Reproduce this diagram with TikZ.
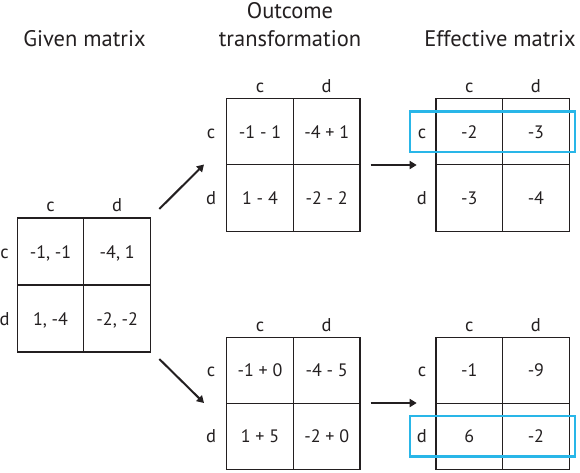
\documentclass[tikz,border=0pt]{standalone}
\usepackage{fontspec}
\setmainfont{PT Sans}
\usetikzlibrary{arrows.meta,calc}
\definecolor{ink}{HTML}{231F20}
\definecolor{hlblue}{RGB}{41,182,232}
\begin{document}
\begin{tikzpicture}[x=1pt,y=-1pt,
  cell/.style={draw=ink, line width=1.1pt, minimum width=66.6pt, minimum height=66.4pt,
    inner sep=0pt, text height=13pt, text depth=0pt, font=\fontsize{18}{20}\selectfont, text=ink},
  lab/.style={font=\fontsize{18.5}{20}\selectfont, text=ink, inner sep=0pt, anchor=base},
  head/.style={font=\fontsize{22.5}{26}\selectfont, text=ink, inner sep=0pt, anchor=base},
  arr/.style={-{Triangle[length=7pt,width=8pt]}, line width=2pt, draw=ink},
  hl/.style={draw=hlblue, line width=2.4pt}]
\useasboundingbox (0,0) rectangle (580,472);

% headers
\node[head] (h1) at (84.5,46) {Given matrix};
\node[head] (h2a) at (290,18) {Outcome};
\node[head] (h2b) at (290,46) {transformation};
\node[head] (h3) at (500,46) {Effective matrix};

% given matrix
\node[cell, minimum height=67pt] (g11) at (50.5,251.5) {-1, -1};
\node[cell, minimum height=67pt] (g12) at (117.2,251.5) {-4, 1};
\node[cell, minimum height=67pt] (g21) at (50.5,318.5) {1, -4};
\node[cell, minimum height=67pt] (g22) at (117.2,318.5) {-2, -2};
\node[lab] (gcc) at ($(g11.north)+(0,-5.5)$) {c};
\node[lab] (gcd) at ($(g12.north)+(0,-5.5)$) {d};
\node[lab] (grc) at ($(g11.west)+(-12,6.5)$) {c};
\node[lab] (grd) at ($(g21.west)+(-12,6.5)$) {d};

% top outcome transformation
\node[cell] (t11) at (260,131.7) {-1 - 1};
\node[cell] (t12) at (326.7,131.7) {-4 + 1};
\node[cell] (t21) at (260,198) {1 - 4};
\node[cell] (t22) at (326.7,198) {-2 - 2};
\node[lab] (tcc) at ($(t11.north)+(0,-5.5)$) {c};
\node[lab] (tcd) at ($(t12.north)+(0,-5.5)$) {d};
\node[lab] (trc) at ($(t11.west)+(-15,6.5)$) {c};
\node[lab] (trd) at ($(t21.west)+(-15,6.5)$) {d};

% top effective matrix
\node[cell] (e11) at (469.3,131.7) {-2};
\node[cell] (e12) at (535.9,131.7) {-3};
\node[cell] (e21) at (469.3,198) {-3};
\node[cell] (e22) at (535.9,198) {-4};
\node[lab] (ecc) at ($(e11.north)+(0,-5.5)$) {c};
\node[lab] (ecd) at ($(e12.north)+(0,-5.5)$) {d};
\node[lab] (erc) at ($(e11.west)+(-13.5,6.5)$) {c};
\node[lab] (erd) at ($(e21.west)+(-13.5,6.5)$) {d};

% bottom outcome transformation
\node[cell, minimum height=66pt] (b11) at (260,370.3) {-1 + 0};
\node[cell, minimum height=66pt] (b12) at (326.7,370.3) {-4 - 5};
\node[cell, minimum height=66pt] (b21) at (260,436.3) {1 + 5};
\node[cell, minimum height=66pt] (b22) at (326.7,436.3) {-2 + 0};
\node[lab] (bcc) at ($(b11.north)+(0,-5.5)$) {c};
\node[lab] (bcd) at ($(b12.north)+(0,-5.5)$) {d};
\node[lab] (brc) at ($(b11.west)+(-15,6.5)$) {c};
\node[lab] (brd) at ($(b21.west)+(-15,6.5)$) {d};

% bottom effective matrix
\node[cell, minimum height=66pt] (f11) at (469.3,370.3) {-1};
\node[cell, minimum height=66pt] (f12) at (535.9,370.3) {-9};
\node[cell, minimum height=66pt] (f21) at (469.3,436.3) {6};
\node[cell, minimum height=66pt] (f22) at (535.9,436.3) {-2};
\node[lab] (fcc) at ($(f11.north)+(0,-5.5)$) {c};
\node[lab] (fcd) at ($(f12.north)+(0,-5.5)$) {d};
\node[lab] (frc) at ($(f11.west)+(-13.5,6.5)$) {c};
\node[lab] (frd) at ($(f21.west)+(-13.5,6.5)$) {d};

% highlight rectangles
\draw[hl] ($(e11.west)+(-25.3,-20.3)$) rectangle ($(e12.east)+(5,20.3)$);
\draw[hl] ($(f21.west)+(-25.3,-20.3)$) rectangle ($(f22.east)+(5,20.3)$);

% arrows
\coordinate (a1s) at (159.3,209);
\coordinate (a1e) at (204,164.5);
\coordinate (a2s) at (159.3,359);
\coordinate (a2e) at (204,403);
\coordinate (h1s) at (370.5,165);
\coordinate (h1e) at (416.7,165);
\coordinate (h2s) at (370.5,403);
\coordinate (h2e) at (416.7,403);
\draw[arr] (a1s) -- (a1e);
\draw[arr] (a2s) -- (a2e);
\draw[arr] (h1s) -- (h1e);
\draw[arr] (h2s) -- (h2e);
\end{tikzpicture}
\end{document}
